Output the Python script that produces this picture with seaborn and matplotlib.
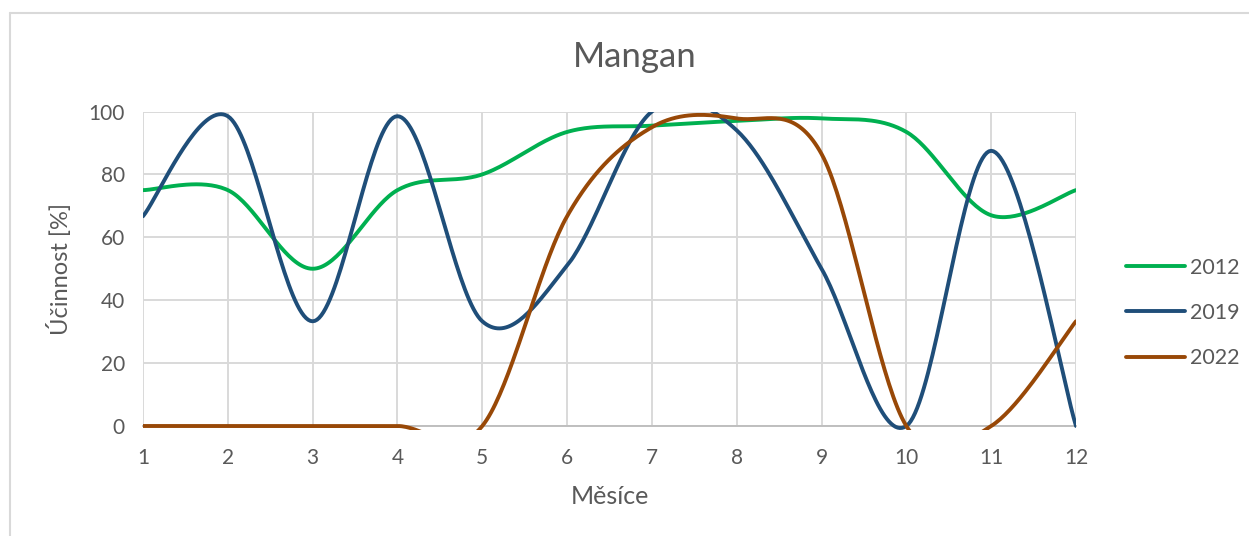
import matplotlib
matplotlib.use("Agg")
import matplotlib.pyplot as plt
from matplotlib.patches import Rectangle
from matplotlib.lines import Line2D
import numpy as np
import pandas as pd
import seaborn as sns


months = list(range(1, 13))
eff_2012 = [75, 75, 50, 75, 80, 93.5, 95.5, 97, 97.8, 93.5, 67, 75]
eff_2019 = [66.7, 98.5, 33.3, 98.5, 33.3, 51, 100, 94, 50, 0, 87.5, 0]
eff_2022 = [0, 0, 0, 0, 0, 66.7, 95, 97.8, 86.5, 0, 0, 33.3]
series_names = ["2012", "2019", "2022"]
series_colors = ["#00B050", "#1F4E79", "#984807"]

TEXT = "#595959"
GRID = "#D9D9D9"


def smooth(x, y, n=40):
    # Catmull-Rom curve through the points, like Excel's "smoothed line"
    x = np.asarray(x, float)
    y = np.asarray(y, float)
    px = np.concatenate([[x[0]], x, [x[-1]]])
    py = np.concatenate([[y[0]], y, [y[-1]]])
    t = np.linspace(0, 1, n)[:, None]
    xs, ys = [], []
    for i in range(1, len(px) - 2):
        p0, p1, p2, p3 = (np.array([px[j], py[j]]) for j in range(i - 1, i + 3))
        c1 = p1 + (p2 - p0) / 6
        c2 = p2 - (p3 - p1) / 6
        pts = ((1 - t) ** 3) * p1 + 3 * ((1 - t) ** 2) * t * c1 \
            + 3 * (1 - t) * t ** 2 * c2 + t ** 3 * p2
        xs.append(pts[:, 0])
        ys.append(pts[:, 1])
    return np.concatenate(xs), np.concatenate(ys)


frames = []
for name, vals in zip(series_names, [eff_2012, eff_2019, eff_2022]):
    sx, sy = smooth(months, vals)
    frames.append(pd.DataFrame({"month": sx, "value": sy, "year": name}))
df = pd.concat(frames, ignore_index=True)

sns.set_theme(style="white")
plt.rcParams["font.family"] = ["Lato", "DejaVu Sans"]

fig = plt.figure(figsize=(12.49, 5.36), dpi=100)
ax = fig.add_axes([143 / 1249, 110 / 536, 933 / 1249, 314.5 / 536])

sns.lineplot(data=df, x="month", y="value", hue="year",
             estimator=None, sort=False, palette=series_colors,
             hue_order=series_names, linewidth=2.8, ax=ax, legend=False)

ax.set_xlim(1, 12)
ax.set_ylim(0, 100)
ax.set_xticks(months)
ax.set_yticks(range(0, 101, 20))
ax.grid(True, color=GRID, linewidth=1.4)
ax.set_axisbelow(True)
for side in ["top", "right", "left"]:
    ax.spines[side].set_visible(False)
ax.spines["bottom"].set_color("#BFBFBF")
ax.spines["bottom"].set_linewidth(1.4)
ax.tick_params(axis="both", length=0, labelsize=15, labelcolor=TEXT)
ax.tick_params(axis="x", pad=16)
ax.tick_params(axis="y", pad=13)

# clip slightly below the x axis so the zero line is drawn whole
clip_rect = Rectangle((0, -0.012), 1, 1.012, transform=ax.transAxes,
                      fill=False, visible=False)
ax.add_artist(clip_rect)
for line in ax.lines:
    line.set_clip_path(clip_rect)
    line.set_zorder(3)

ax.set_xlabel("Měsíce", fontsize=18, color=TEXT, labelpad=12)
ax.set_ylabel("Účinnost [%]", fontsize=17, color=TEXT, labelpad=12)
fig.suptitle("Mangan", x=635 / 1249, y=1 - 57 / 536, va="center",
             fontsize=25, color=TEXT)

handles = [Line2D([], [], color=c, linewidth=2.8) for c in series_colors]
fig.legend(handles, series_names, loc="center left",
           bbox_to_anchor=(1107 / 1249, 1 - 313 / 536), frameon=False,
           fontsize=15.5, labelcolor=TEXT, handlelength=2.7,
           handletextpad=0.25, labelspacing=1.17)

# chart area border
fig.add_artist(Line2D([9.5 / 1249, 9.5 / 1249], [0, 1 - 13 / 536],
                      color="#D9D9D9", linewidth=1.5, transform=fig.transFigure))
fig.add_artist(Line2D([9.5 / 1249, 1], [1 - 13 / 536, 1 - 13 / 536],
                      color="#D9D9D9", linewidth=1.5, transform=fig.transFigure))

fig.savefig("out.png", dpi=100)
